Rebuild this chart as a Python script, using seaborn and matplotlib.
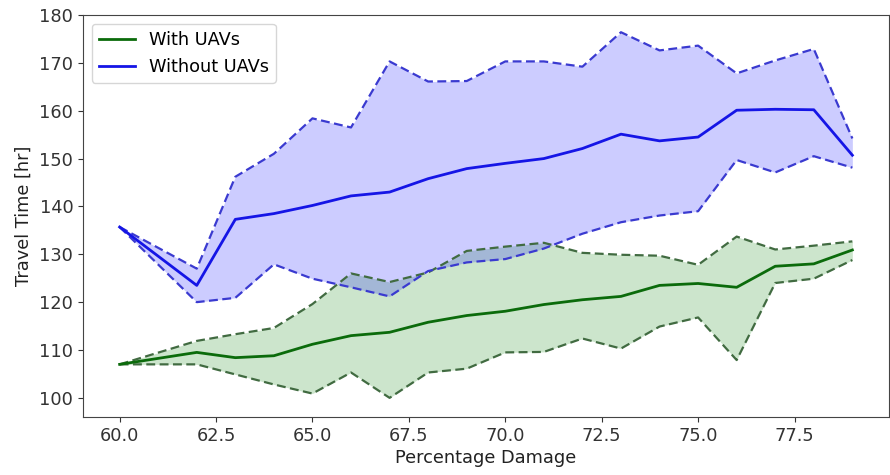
import numpy as np
import pandas as pd
import matplotlib
matplotlib.use("Agg")
import matplotlib.pyplot as plt
import seaborn as sns

damage = [60, 62, 63, 64, 65, 66, 67, 68, 69, 70, 71, 72, 73, 74, 75, 76, 77, 78, 79]

with_mean = [107.0, 109.5, 108.4, 108.8, 111.2, 113.0, 113.7, 115.8, 117.2, 118.1,
             119.5, 120.5, 121.2, 123.5, 123.9, 123.1, 127.5, 128.0, 130.9]
with_upper = [107.0, 111.9, 113.3, 114.6, 119.6, 126.0, 124.2, 126.2, 130.7, 131.6,
              132.4, 130.3, 129.9, 129.7, 127.8, 133.7, 131.0, 131.8, 132.7]
with_lower = [107.0, 107.0, 104.9, 102.8, 100.9, 105.3, 100.0, 105.3, 106.1, 109.5,
              109.6, 112.4, 110.3, 114.9, 116.8, 107.9, 124.0, 124.9, 128.8]

without_mean = [135.7, 123.5, 137.3, 138.5, 140.2, 142.2, 143.0, 145.8, 147.9, 149.0,
                150.0, 152.1, 155.1, 153.7, 154.5, 160.1, 160.3, 160.2, 150.7]
without_upper = [135.7, 127.0, 146.2, 151.0, 158.4, 156.5, 170.3, 166.1, 166.2, 170.3,
                 170.3, 169.2, 176.4, 172.6, 173.6, 167.8, 170.5, 172.9, 154.2]
without_lower = [135.7, 120.0, 120.9, 127.9, 124.9, 123.1, 121.2, 126.5, 128.3, 129.0,
                 131.2, 134.3, 136.7, 138.1, 139.0, 149.7, 147.1, 150.5, 148.1]

series_labels = ["With UAVs", "Without UAVs"]

plt.rcParams["font.family"] = ["DejaVu Sans"]
plt.rcParams["font.size"] = 12.8

fig = plt.figure(figsize=(8.9, 4.75), dpi=100)
ax = fig.add_axes([83 / 890, 1 - 417 / 475, (889 - 83) / 890, (417 - 15) / 475])

df = pd.DataFrame({
    "x": damage,
    "wm": with_mean, "wu": with_upper, "wl": with_lower,
    "om": without_mean, "ou": without_upper, "ol": without_lower,
})

# fills
ax.fill_between(df["x"], df["wl"], df["wu"], color="green", alpha=0.2, linewidth=0)
ax.fill_between(df["x"], df["ol"], df["ou"], color="blue", alpha=0.2, linewidth=0)

# bounds
for col, c in [("wu", "#416b41"), ("wl", "#416b41"), ("ou", "#3a3ad0"), ("ol", "#3a3ad0")]:
    sns.lineplot(data=df, x="x", y=col, ax=ax, color=c, linestyle=(0, (4, 2)), linewidth=1.6,
                 legend=False)

# means
sns.lineplot(data=df, x="x", y="wm", ax=ax, color="#0b6b0b", linewidth=2.0,
             label=series_labels[0])
sns.lineplot(data=df, x="x", y="om", ax=ax, color="#1515e6", linewidth=2.0,
             label=series_labels[1])

ax.set_xlim(59.05, 79.95)
ax.set_ylim(96.0, 180.0)
ax.set_xticks([60.0, 62.5, 65.0, 67.5, 70.0, 72.5, 75.0, 77.5])
ax.set_xticklabels(["60.0", "62.5", "65.0", "67.5", "70.0", "72.5", "75.0", "77.5"])
ax.set_yticks(range(100, 181, 10))
ax.set_xlabel("Percentage Damage", fontsize=12.8, labelpad=3, color="#222222")
ax.set_ylabel("Travel Time [hr]", fontsize=12.8, labelpad=5, color="#222222")
ax.tick_params(labelsize=12.8, colors="#333333")
for s in ax.spines.values():
    s.set_color("#444444")
ax.legend(loc="upper left", fontsize=12.8, framealpha=0.8, edgecolor="#cccccc")

fig.savefig("out.png", dpi=100)
